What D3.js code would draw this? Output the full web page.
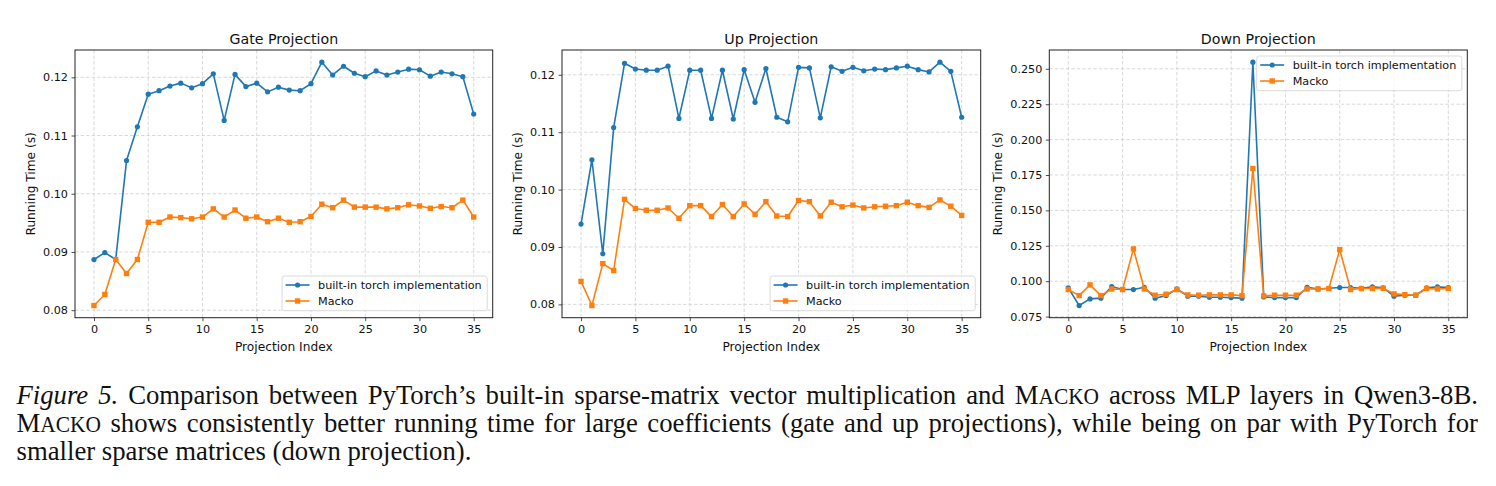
<!DOCTYPE html>
<html>
<head>
<meta charset="utf-8">
<script src="https://cdn.jsdelivr.net/npm/d3@7"></script>
<style>
  html, body { margin: 0; padding: 0; background: #fff; }
  svg { display: block; }
</style>
</head>
<body>
<svg id="fig" width="1496" height="486"></svg>
<script>
// ---- data ----
const panelTitles = ["Gate Projection", "Up Projection", "Down Projection"];
const seriesNames = ["built-in torch implementation", "Macko"];
const projIndex = d3.range(36);
const xTicks = [0, 5, 10, 15, 20, 25, 30, 35];

const gateTorch = [0.0887, 0.0899, 0.0887, 0.1057, 0.1115, 0.1171, 0.1177, 0.1185, 0.1190, 0.1182,
                   0.1189, 0.1206, 0.1126, 0.1205, 0.1184, 0.1190, 0.1175, 0.1183, 0.1178, 0.1177,
                   0.1189, 0.1226, 0.1204, 0.1219, 0.1207, 0.1201, 0.1211, 0.1204, 0.1209, 0.1214,
                   0.1213, 0.1202, 0.1209, 0.1206, 0.1201, 0.1137];
const gateMacko = [0.0808, 0.0827, 0.0887, 0.0863, 0.0887, 0.0951, 0.0951, 0.0960, 0.0959, 0.0957,
                   0.0960, 0.0974, 0.0960, 0.0972, 0.0958, 0.0960, 0.0952, 0.0958, 0.0951, 0.0952,
                   0.0961, 0.0982, 0.0976, 0.0989, 0.0977, 0.0977, 0.0977, 0.0974, 0.0976, 0.0981,
                   0.0979, 0.0975, 0.0978, 0.0976, 0.0989, 0.0960];

const upTorch = [0.0940, 0.1052, 0.0888, 0.1108, 0.1220, 0.1210, 0.1208, 0.1208, 0.1215, 0.1124,
                 0.1208, 0.1208, 0.1124, 0.1208, 0.1123, 0.1209, 0.1152, 0.1211, 0.1126, 0.1118,
                 0.1213, 0.1212, 0.1125, 0.1214, 0.1206, 0.1213, 0.1207, 0.1210, 0.1209, 0.1212,
                 0.1215, 0.1209, 0.1205, 0.1222, 0.1206, 0.1126];
const upMacko = [0.0840, 0.0798, 0.0871, 0.0859, 0.0983, 0.0967, 0.0964, 0.0964, 0.0968, 0.0950,
                 0.0972, 0.0972, 0.0953, 0.0974, 0.0953, 0.0975, 0.0957, 0.0979, 0.0954, 0.0953,
                 0.0981, 0.0979, 0.0954, 0.0978, 0.0970, 0.0973, 0.0968, 0.0970, 0.0971, 0.0972,
                 0.0978, 0.0972, 0.0969, 0.0982, 0.0971, 0.0955];

const downTorch = [0.0953, 0.0828, 0.0875, 0.0880, 0.0962, 0.0941, 0.0941, 0.0957, 0.0880, 0.0898,
                   0.0945, 0.0894, 0.0894, 0.0887, 0.0887, 0.0884, 0.0880, 0.2547, 0.0889, 0.0884,
                   0.0884, 0.0884, 0.0957, 0.0945, 0.0950, 0.0955, 0.0955, 0.0950, 0.0960, 0.0953,
                   0.0894, 0.0901, 0.0901, 0.0953, 0.0960, 0.0955];
const downMacko = [0.0941, 0.0898, 0.0974, 0.0898, 0.0945, 0.0941, 0.1228, 0.0945, 0.0901, 0.0908,
                   0.0941, 0.0903, 0.0901, 0.0903, 0.0903, 0.0903, 0.0898, 0.1796, 0.0896, 0.0901,
                   0.0901, 0.0901, 0.0945, 0.0945, 0.0948, 0.1223, 0.0941, 0.0948, 0.0948, 0.0950,
                   0.0910, 0.0905, 0.0901, 0.0948, 0.0945, 0.0948];

const gateTicks = [0.08, 0.09, 0.10, 0.11, 0.12];
const upTicks = [0.08, 0.09, 0.10, 0.11, 0.12];
const downTicks = [0.075, 0.100, 0.125, 0.150, 0.175, 0.200, 0.225, 0.250];

// ---- layout ----
const colors = ["#1f77b4", "#ff7f0e"];
const plotTop = 50, plotBottom = 317.7;
const font = "DejaVu Sans, sans-serif";
const panels = [
  {left: 75,     right: 492.7,  torch: gateTorch, macko: gateMacko, ticks: gateTicks, fmt: ".2f", legend: "lower right", ylabOff: 44},
  {left: 562,    right: 980.7,  torch: upTorch,   macko: upMacko,   ticks: upTicks,   fmt: ".2f", legend: "lower right", ylabOff: 44},
  {left: 1049.3, right: 1467.3, torch: downTorch, macko: downMacko, ticks: downTicks, fmt: ".3f", legend: "upper right", ylabOff: 52}
];

const svg = d3.select("#fig");

panels.forEach((p, i) => {
  const allVals = p.torch.concat(p.macko);
  const [lo, hi] = d3.extent(allVals);
  const pad = (hi - lo) * 0.05;

  const x = d3.scaleLinear().domain([-1.75, 36.75]).range([p.left, p.right]);
  const y = d3.scaleLinear().domain([lo - pad, hi + pad]).range([plotBottom, plotTop]);

  const g = svg.append("g");

  // grid
  g.append("g").selectAll("line").data(xTicks).join("line")
    .attr("x1", d => x(d)).attr("x2", d => x(d))
    .attr("y1", plotTop).attr("y2", plotBottom)
    .attr("stroke", "#cfcfcf").attr("stroke-width", 0.8).attr("stroke-dasharray", "3.5,2");
  g.append("g").selectAll("line").data(p.ticks).join("line")
    .attr("x1", p.left).attr("x2", p.right)
    .attr("y1", d => y(d)).attr("y2", d => y(d))
    .attr("stroke", "#cfcfcf").attr("stroke-width", 0.8).attr("stroke-dasharray", "3.5,2");

  // axes
  const xAxis = g.append("g")
    .attr("transform", "translate(0," + plotBottom + ")")
    .call(d3.axisBottom(x).tickValues(xTicks).tickSize(3.5).tickPadding(3.5).tickFormat(d3.format("d")));
  const yAxis = g.append("g")
    .attr("transform", "translate(" + p.left + ",0)")
    .call(d3.axisLeft(y).tickValues(p.ticks).tickSize(3.5).tickPadding(3.5).tickFormat(d3.format(p.fmt)));
  [xAxis, yAxis].forEach(a => {
    a.select(".domain").remove();
    a.selectAll("line").attr("stroke", "#222").attr("stroke-width", 0.8);
    a.selectAll("text").attr("font-family", font).attr("font-size", 11.2).attr("fill", "#111");
  });

  // frame
  g.append("rect")
    .attr("x", p.left).attr("y", plotTop)
    .attr("width", p.right - p.left).attr("height", plotBottom - plotTop)
    .attr("fill", "none").attr("stroke", "#222").attr("stroke-width", 1);

  // series
  const line = d3.line().x((d, j) => x(projIndex[j])).y(d => y(d));
  [p.torch, p.macko].forEach((vals, k) => {
    const s = g.append("g");
    s.append("path").datum(vals)
      .attr("d", line).attr("fill", "none")
      .attr("stroke", colors[k]).attr("stroke-width", 1.6).attr("stroke-linejoin", "round");
    if (k === 0) {
      s.selectAll("circle").data(vals).join("circle")
        .attr("cx", (d, j) => x(projIndex[j])).attr("cy", d => y(d))
        .attr("r", 2.6).attr("fill", colors[k]);
    } else {
      const sz = 5.4;
      s.selectAll("rect").data(vals).join("rect")
        .attr("x", (d, j) => x(projIndex[j]) - sz / 2).attr("y", d => y(d) - sz / 2)
        .attr("width", sz).attr("height", sz).attr("fill", colors[k]);
    }
  });

  // labels
  g.append("text")
    .attr("x", (p.left + p.right) / 2).attr("y", 39).attr("dy", "0.35em")
    .attr("text-anchor", "middle").attr("font-family", font).attr("font-size", 14.2).attr("fill", "#111")
    .text(panelTitles[i]);
  g.append("text")
    .attr("x", (p.left + p.right) / 2).attr("y", 346.7).attr("dy", "0.35em")
    .attr("text-anchor", "middle").attr("font-family", font).attr("font-size", 12.2).attr("fill", "#111")
    .text("Projection Index");
  g.append("text")
    .attr("transform", "translate(" + (p.left - p.ylabOff) + "," + ((plotTop + plotBottom) / 2) + ") rotate(-90)")
    .attr("dy", "0.35em")
    .attr("text-anchor", "middle").attr("font-family", font).attr("font-size", 12.2).attr("fill", "#111")
    .text("Running Time (s)");

  // legend
  const lg = g.append("g");
  const box = lg.append("rect");
  const labels = seriesNames.map((name, k) => lg.append("text")
      .attr("font-family", font).attr("font-size", 11.2).attr("fill", "#111")
      .attr("dy", "0.35em").text(name));
  const textW = d3.max(labels, t => t.node().getComputedTextLength());
  const boxW = 3.5 + 24 + 8.5 + textW + 5.5;
  const boxH = 34.7;
  const bx = p.right - 5.5 - boxW;
  const by = p.legend === "upper right" ? plotTop + 6 : plotBottom - 7 - boxH;
  box.attr("x", bx).attr("y", by).attr("width", boxW).attr("height", boxH)
    .attr("rx", 2.5).attr("fill", "#fff").attr("fill-opacity", 0.8)
    .attr("stroke", "#d6d6d6").attr("stroke-width", 0.9);
  seriesNames.forEach((name, k) => {
    const cy = by + 9 + k * 16;
    const hx = bx + 3.5;
    lg.append("line").attr("x1", hx).attr("x2", hx + 24).attr("y1", cy).attr("y2", cy)
      .attr("stroke", colors[k]).attr("stroke-width", 1.6);
    if (k === 0) {
      lg.append("circle").attr("cx", hx + 12).attr("cy", cy).attr("r", 2.6).attr("fill", colors[k]);
    } else {
      lg.append("rect").attr("x", hx + 12 - 2.7).attr("y", cy - 2.7).attr("width", 5.4).attr("height", 5.4).attr("fill", colors[k]);
    }
    labels[k].attr("x", hx + 24 + 8.5).attr("y", cy);
  });
});

// ---- caption ----
// small caps drawn as a full-size first letter plus smaller capitals;
// the serif face is squeezed a little horizontally to match the figure's narrower Times
const capSize = 28, capSqueeze = 0.955;
const captionLines = [
  [{t: "Figure 5.", style: "italic"}, {t: " Comparison between PyTorch\u2019s built-in sparse-matrix vector multiplication and "},
   {t: "M"}, {t: "ACKO", small: true}, {t: " across MLP layers in Qwen3-8B."}],
  [{t: "M"}, {t: "ACKO", small: true}, {t: " shows consistently better running time for large coefficients (gate and up projections), while being on par with PyTorch for"}],
  [{t: "smaller sparse matrices (down projection)."}]
];
const capLeft = 16.5, capRight = 1478;
const capBaselines = [404, 432.5, 460.5];

captionLines.forEach((parts, li) => {
  const txt = svg.append("text")
    .attr("x", capLeft).attr("y", capBaselines[li])
    .attr("transform", "translate(" + capLeft + ",0) scale(" + capSqueeze + ",1) translate(" + (-capLeft) + ",0)")
    .attr("font-family", "Liberation Serif, Times New Roman, serif")
    .attr("font-size", capSize).attr("fill", "#111");
  parts.forEach(part => {
    const ts = txt.append("tspan").text(part.t);
    if (part.style) ts.attr("font-style", part.style);
    if (part.small) ts.attr("font-size", capSize * 0.8);
  });
  if (li < captionLines.length - 1) {
    const natural = txt.node().getComputedTextLength();
    const full = parts.map(d => d.t).join("");
    const nSpaces = (full.match(/ /g) || []).length;
    txt.attr("word-spacing", ((capRight - capLeft) / capSqueeze - natural) / nSpaces);
  }
});
</script>
</body>
</html>
